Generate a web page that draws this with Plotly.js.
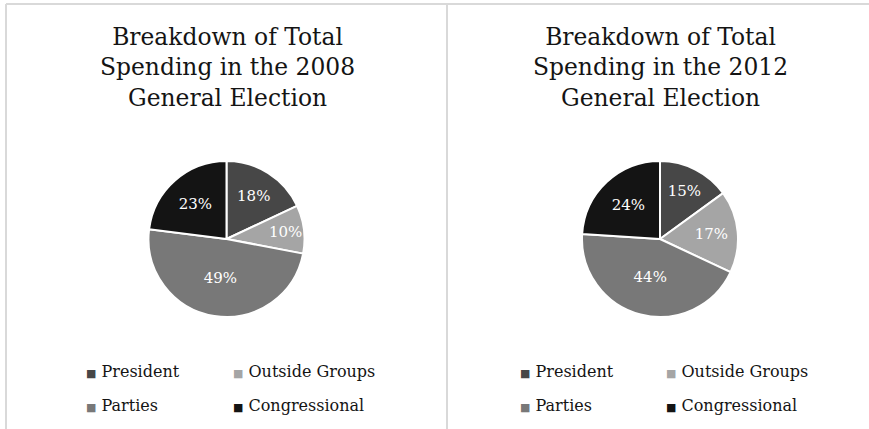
<!DOCTYPE html>
<html>
<head>
<meta charset="utf-8">
<script src="https://cdn.plot.ly/plotly-3.0.1.min.js"></script>
<style>html,body{margin:0;padding:0;background:#fff;}#chart{width:869px;height:429px;}</style>
</head>
<body>
<div id="chart"></div>
<script>
const categories = ['President', 'Outside Groups', 'Parties', 'Congressional'];
const values2008 = [18, 10, 49, 23];
const values2012 = [15, 17, 44, 24];
const sliceColors = ['#474747', '#a5a5a5', '#787878', '#141414'];
const chartTitles = [
  'Breakdown of Total<br>Spending in the 2008<br>General Election',
  'Breakdown of Total<br>Spending in the 2012<br>General Election'
];

const W = 869, H = 429;
const FONT = 'DejaVu Serif, serif';
const px = x => x / W;
const py = y => 1 - y / H;

function pieTrace(vals, cx, cy, r) {
  return {
    type: 'pie',
    labels: categories,
    values: vals,
    sort: false,
    direction: 'clockwise',
    rotation: 0,
    marker: {colors: sliceColors, line: {color: '#ffffff', width: 2}},
    textinfo: 'percent',
    texttemplate: '%{percent:.0%}',
    textposition: 'inside',
    insidetextorientation: 'horizontal',
    textfont: {family: FONT, size: 15, color: '#ffffff'},
    hoverinfo: 'label+percent',
    domain: {x: [px(cx - r), px(cx + r)], y: [py(cy + r), py(cy - r)]},
    showlegend: false
  };
}

const data = [
  pieTrace(values2008, 226.5, 239, 78),
  pieTrace(values2012, 660, 239, 78)
];

const centers = [227, 660];
const annotations = [];
chartTitles.forEach((t, i) => {
  annotations.push({
    xref: 'paper', yref: 'paper', x: px(centers[i]), y: py(68),
    xanchor: 'center', yanchor: 'middle', showarrow: false,
    text: t, align: 'center',
    font: {family: FONT, size: 23.4, color: '#141414'}
  });
});

// legend entries built from categories and colors
const legendLeft = [[84, 231], [518, 664]];
const legendRows = [371, 405];
[0, 1].forEach(ci => {
  categories.forEach((cat, k) => {
    const col = k % 2, row = Math.floor(k / 2);
    annotations.push({
      xref: 'paper', yref: 'paper',
      x: px(legendLeft[ci][col]), y: py(legendRows[row]),
      xanchor: 'left', yanchor: 'middle', showarrow: false,
      text: '<span style="font-family:DejaVu Sans;font-size:11px;color:' + sliceColors[k] + '">■</span> ' + cat,
      font: {family: FONT, size: 16, color: '#141414'}
    });
  });
});

const lineColor = '#d9d9d9';
const shapes = [
  {type: 'line', xref: 'paper', yref: 'paper', x0: px(6), x1: 1, y0: py(4), y1: py(4), line: {color: lineColor, width: 2}},
  {type: 'line', xref: 'paper', yref: 'paper', x0: px(6), x1: px(6), y0: py(4), y1: 0, line: {color: lineColor, width: 2}},
  {type: 'line', xref: 'paper', yref: 'paper', x0: px(447), x1: px(447), y0: py(4), y1: 0, line: {color: lineColor, width: 2}}
];

const layout = {
  width: W, height: H,
  margin: {l: 0, r: 0, t: 0, b: 0},
  paper_bgcolor: '#ffffff',
  plot_bgcolor: '#ffffff',
  showlegend: false,
  uniformtext: {minsize: 15, mode: 'show'},
  annotations: annotations,
  shapes: shapes,
  font: {family: FONT}
};

Plotly.newPlot('chart', data, layout, {displayModeBar: false, staticPlot: true});
</script>
</body>
</html>
